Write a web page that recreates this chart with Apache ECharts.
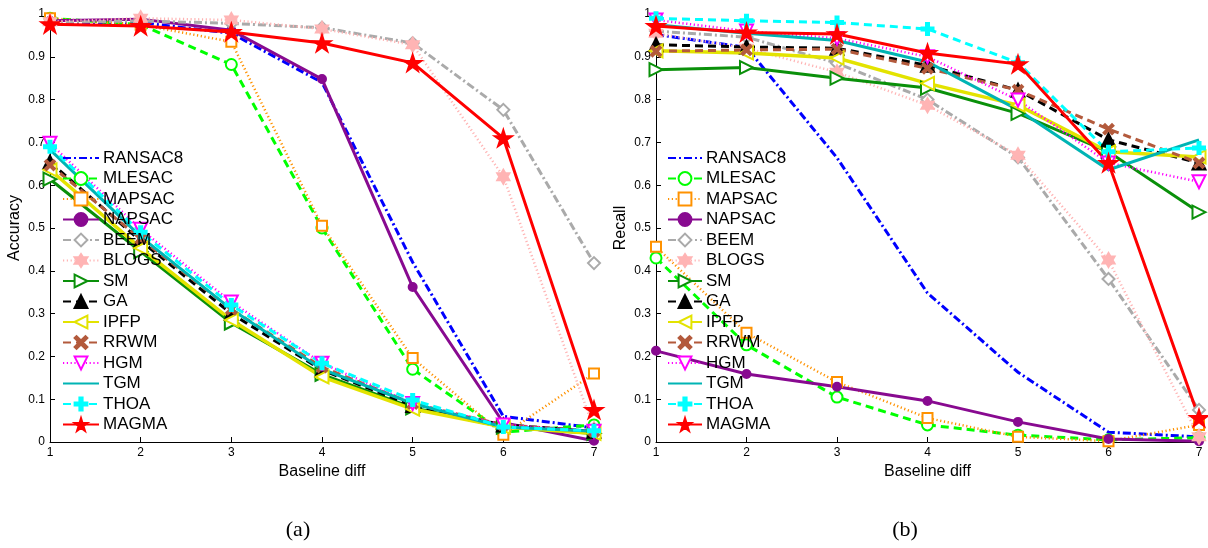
<!DOCTYPE html>
<html>
<head>
<meta charset="utf-8">
<script src="https://cdn.jsdelivr.net/npm/echarts@6/dist/echarts.min.js"></script>
<style>
  html, body { margin: 0; padding: 0; background: #ffffff; }
  #chart { width: 1208px; height: 548px; }
</style>
</head>
<body>
<div id="chart"></div>
<script>
// Baseline differences on the x axis
const baselineDiff = [1, 2, 3, 4, 5, 6, 7];
const yTicks = [0, 0.1, 0.2, 0.3, 0.4, 0.5, 0.6, 0.7, 0.8, 0.9, 1];
const methods = ['RANSAC8', 'MLESAC', 'MAPSAC', 'NAPSAC', 'BEEM', 'BLOGS', 'SM', 'GA', 'IPFP', 'RRWM', 'HGM', 'TGM', 'THOA', 'MAGMA'];

// (a) Accuracy per method
const accRANSAC8 = [0.975, 0.980, 0.955, 0.840, 0.420, 0.060, 0.033];
const accMLESAC  = [0.990, 0.975, 0.882, 0.500, 0.170, 0.023, 0.040];
const accMAPSAC  = [0.990, 0.975, 0.935, 0.505, 0.196, 0.017, 0.160];
const accNAPSAC  = [0.984, 0.988, 0.962, 0.848, 0.362, 0.045, 0.003];
const accBEEM    = [0.980, 0.984, 0.978, 0.968, 0.932, 0.776, 0.418];
const accBLOGS   = [0.982, 0.990, 0.986, 0.965, 0.928, 0.620, 0.030];
const accSM      = [0.614, 0.445, 0.278, 0.158, 0.080, 0.035, 0.020];
const accGA      = [0.654, 0.470, 0.300, 0.168, 0.085, 0.040, 0.025];
const accIPFP    = [0.636, 0.453, 0.285, 0.152, 0.077, 0.035, 0.020];
const accRRWM    = [0.647, 0.475, 0.310, 0.175, 0.090, 0.040, 0.025];
const accHGM     = [0.698, 0.497, 0.327, 0.184, 0.090, 0.040, 0.025];
const accTGM     = [0.683, 0.480, 0.310, 0.170, 0.090, 0.035, 0.025];
const accTHOA    = [0.690, 0.490, 0.320, 0.184, 0.098, 0.035, 0.026];
const accMAGMA   = [0.976, 0.972, 0.958, 0.932, 0.886, 0.710, 0.075];

// (b) Recall per method
const recRANSAC8 = [0.952, 0.922, 0.664, 0.348, 0.163, 0.023, 0.012];
const recMLESAC  = [0.430, 0.227, 0.105, 0.040, 0.016, 0.005, 0.010];
const recMAPSAC  = [0.456, 0.255, 0.140, 0.056, 0.012, 0.002, 0.040];
const recNAPSAC  = [0.213, 0.159, 0.129, 0.096, 0.047, 0.007, 0.002];
const recBEEM    = [0.960, 0.946, 0.885, 0.800, 0.665, 0.381, 0.075];
const recBLOGS   = [0.955, 0.920, 0.864, 0.787, 0.670, 0.425, 0.012];
const recSM      = [0.870, 0.875, 0.850, 0.827, 0.768, 0.678, 0.537];
const recGA      = [0.928, 0.923, 0.920, 0.880, 0.822, 0.706, 0.652];
const recIPFP    = [0.914, 0.909, 0.897, 0.838, 0.787, 0.678, 0.666];
const recRRWM    = [0.913, 0.916, 0.918, 0.873, 0.822, 0.731, 0.652];
const recHGM     = [0.986, 0.960, 0.943, 0.900, 0.799, 0.652, 0.608];
const recTGM     = [0.975, 0.955, 0.938, 0.888, 0.776, 0.636, 0.706];
const recTHOA    = [0.990, 0.984, 0.980, 0.965, 0.886, 0.678, 0.687];
const recMAGMA   = [0.972, 0.957, 0.953, 0.909, 0.883, 0.652, 0.056];

const accuracyByMethod = [accRANSAC8, accMLESAC, accMAPSAC, accNAPSAC, accBEEM, accBLOGS, accSM, accGA, accIPFP, accRRWM, accHGM, accTGM, accTHOA, accMAGMA];
const recallByMethod = [recRANSAC8, recMLESAC, recMAPSAC, recNAPSAC, recBEEM, recBLOGS, recSM, recGA, recIPFP, recRRWM, recHGM, recTGM, recTHOA, recMAGMA];

// Marker shapes
const STAR = 'path://M0,-10 L2.245,-3.09 L9.51,-3.09 L3.633,1.18 L5.88,8.09 L0,3.82 L-5.88,8.09 L-3.633,1.18 L-9.51,-3.09 L-2.245,-3.09 Z';
const HEXAGRAM = 'path://M0,-10 L2.887,-5 L8.66,-5 L5.774,0 L8.66,5 L2.887,5 L0,10 L-2.887,5 L-8.66,5 L-5.774,0 L-8.66,-5 L-2.887,-5 Z';
const CROSS = 'path://M-10,-7 L-7,-10 L0,-3 L7,-10 L10,-7 L3,0 L10,7 L7,10 L0,3 L-7,10 L-10,7 L-3,0 Z';
const PLUS = 'path://M-2.5,-10 L2.5,-10 L2.5,-2.5 L10,-2.5 L10,2.5 L2.5,2.5 L2.5,10 L-2.5,10 L-2.5,2.5 L-10,2.5 L-10,-2.5 L-2.5,-2.5 Z';

const DASH = [8, 5];
const DASHDOT = [8, 3, 2, 3];
const DOT = [1.2, 2.6];

// symbol: null means a plain line with no markers
const styles = {
  RANSAC8: { color: '#0000ff', dash: DASHDOT, width: 3,   symbol: null,            size: 0 },
  MLESAC:  { color: '#00ff00', dash: DASH,    width: 3,   symbol: 'emptyCircle',   size: 11 },
  MAPSAC:  { color: '#ff9200', dash: DOT,     width: 2.5, symbol: 'emptyRect',     size: 10 },
  NAPSAC:  { color: '#880a90', dash: 'solid', width: 3,   symbol: 'circle',        size: 8 },
  BEEM:    { color: '#aaaaaa', dash: DASHDOT, width: 3,   symbol: 'emptyDiamond',  size: 12 },
  BLOGS:   { color: '#ffb4b4', dash: DOT,     width: 2.5, symbol: HEXAGRAM,        size: 14 },
  SM:      { color: '#0a900a', dash: 'solid', width: 3,   symbol: 'emptyTriangle', size: 13, rotate: -90 },
  GA:      { color: '#000000', dash: DASH,    width: 3,   symbol: 'triangle',      size: 13 },
  IPFP:    { color: '#e3e300', dash: 'solid', width: 3.5, symbol: 'emptyTriangle', size: 13, rotate: 90 },
  RRWM:    { color: '#b35a3c', dash: DASH,    width: 3,   symbol: CROSS,           size: 10 },
  HGM:     { color: '#ff00ff', dash: DOT,     width: 2.5, symbol: 'emptyTriangle', size: 13, rotate: 180 },
  TGM:     { color: '#00b4b4', dash: 'solid', width: 3,   symbol: null,            size: 0 },
  THOA:    { color: '#00ffff', dash: DASH,    width: 3,   symbol: PLUS,            size: 12 },
  MAGMA:   { color: '#ff0000', dash: 'solid', width: 3,   symbol: STAR,            size: 17 }
};

const FONT = '"Liberation Sans", Arial, Helvetica, sans-serif';

function lineSeries(name, values, panel) {
  const s = styles[name];
  const plain = s.symbol === null;
  return {
    name: name,
    type: 'line',
    xAxisIndex: panel,
    yAxisIndex: panel,
    data: baselineDiff.map((x, i) => [x, values[i]]),
    symbol: plain ? 'circle' : s.symbol,
    symbolSize: s.size,
    symbolRotate: s.rotate || 0,
    symbolKeepAspect: true,
    showSymbol: !plain,
    clip: false,
    silent: true,
    lineStyle: { color: s.color, width: s.width, type: s.dash, cap: 'butt', join: 'miter' },
    // plain lines keep a transparent marker so their legend entry is only the line
    itemStyle: plain
      ? { color: 'rgba(0,0,0,0)', borderWidth: 0 }
      : { color: s.color, borderColor: s.color, borderWidth: 2 },
    emphasis: { disabled: true }
  };
}

function xAxisFor(panel) {
  return {
    type: 'value', gridIndex: panel, min: 1, max: 7, interval: 1,
    name: 'Baseline diff', nameLocation: 'middle', nameGap: 21,
    nameTextStyle: { color: '#000', fontSize: 16, fontFamily: FONT },
    axisLine: { show: true, onZero: false, lineStyle: { color: '#000', width: 1 } },
    axisTick: { show: true, inside: true, length: 5, lineStyle: { color: '#000' } },
    axisLabel: { color: '#000', fontSize: 12, fontFamily: FONT, margin: 5 },
    splitLine: { show: false }
  };
}

function yAxisFor(panel, title) {
  return {
    type: 'value', gridIndex: panel, min: yTicks[0], max: yTicks[yTicks.length - 1], interval: 0.1,
    name: title, nameLocation: 'middle', nameGap: 27, nameRotate: 90,
    nameTextStyle: { color: '#000', fontSize: 16, fontFamily: FONT },
    axisLine: { show: true, lineStyle: { color: '#000', width: 1 } },
    axisTick: { show: true, inside: true, length: 5, lineStyle: { color: '#000' } },
    axisLabel: {
      color: '#000', fontSize: 12, fontFamily: FONT, margin: 5,
      formatter: v => (v === 0 || v === 1) ? String(v) : v.toFixed(1)
    },
    splitLine: { show: false }
  };
}

function legendFor(left, lineLen) {
  return {
    data: methods,
    orient: 'vertical',
    left: left,
    top: 149.5,
    itemWidth: lineLen,
    itemHeight: 16,
    itemGap: 3.5,
    selectedMode: false,
    textStyle: { color: '#000', fontSize: 17, lineHeight: 17, fontFamily: FONT, padding: [0, 0, 0, -1] },
    padding: 0
  };
}

const series = [];
methods.forEach((m, i) => series.push(lineSeries(m, accuracyByMethod[i], 0)));
methods.forEach((m, i) => series.push(lineSeries(m, recallByMethod[i], 1)));

const chart = echarts.init(document.getElementById('chart'), null, { renderer: 'canvas' });
chart.setOption({
  animation: false,
  backgroundColor: '#ffffff',
  grid: [
    { left: 50, top: 14, width: 544, height: 428 },
    { left: 656, top: 14, width: 543, height: 428 }
  ],
  xAxis: [xAxisFor(0), xAxisFor(1)],
  yAxis: [yAxisFor(0, 'Accuracy'), yAxisFor(1, 'Recall')],
  legend: [legendFor(62, 36), legendFor(667, 34)],
  graphic: [
    { type: 'text', x: 298, y: 530, style: { text: '(a)', fill: '#000', font: '22px "Liberation Serif", "Times New Roman", serif', align: 'center', verticalAlign: 'middle' } },
    { type: 'text', x: 905, y: 530, style: { text: '(b)', fill: '#000', font: '22px "Liberation Serif", "Times New Roman", serif', align: 'center', verticalAlign: 'middle' } }
  ],
  series: series
});
</script>
</body>
</html>
